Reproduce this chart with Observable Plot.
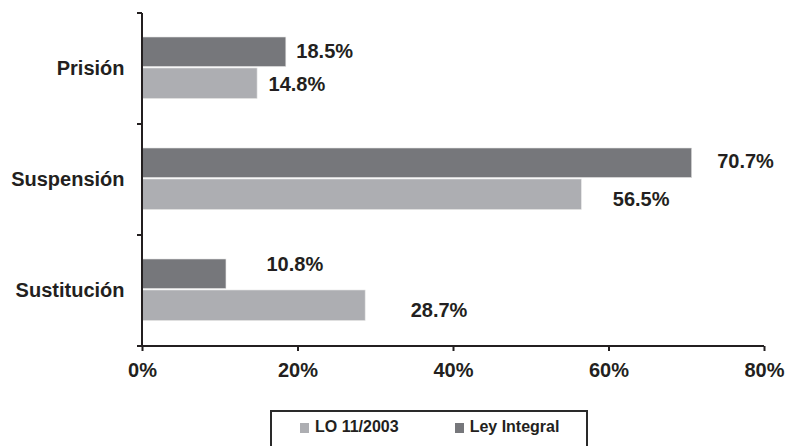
<!DOCTYPE html>
<html>
<head>
<meta charset="utf-8">
<script src="https://cdn.jsdelivr.net/npm/d3@7"></script>
<script src="https://cdn.jsdelivr.net/npm/@observablehq/plot@0.6"></script>
<style>
  html, body { margin: 0; padding: 0; background: #fff; }
  body { width: 785px; height: 446px; overflow: hidden; font-family: "Liberation Sans", Arial, sans-serif; }
  #legend {
    box-sizing: border-box;
    margin: 15px 0 0 270px;
    width: 318px;
    height: 42px;
    border: 2px solid #2a2a2a;
    border-bottom: none;
    padding: 6.5px 0 0 28px;
    display: flex;
    align-items: center;
    font: bold 16px/16px "Liberation Sans", Arial, sans-serif;
    color: #231f20;
    align-items: flex-start;
  }
  .item { display: flex; align-items: center; }
  .sw { width: 9px; height: 10px; margin-right: 6px; margin-top: 3px; }
</style>
</head>
<body>
<div id="chart"></div>
<div id="legend"></div>
<script>
// Sentencing outcomes by law (share of cases)
const categories = ["Prisión", "Suspensión", "Sustitución"];
const series = ["Ley Integral", "LO 11/2003"];
const leyIntegral = [18.5, 70.7, 10.8];
const lo2003 = [14.8, 56.5, 28.7];
const xTicks = [0, 20, 40, 60, 80];

const colors = {"Ley Integral": "#76777b", "LO 11/2003": "#adaeb2"};
const ink = "#231f20";

const rows = [
  ...categories.map((c, i) => ({category: c, series: "Ley Integral", value: leyIntegral[i]})),
  ...categories.map((c, i) => ({category: c, series: "LO 11/2003", value: lo2003[i]}))
];

// hand-placed value label offsets (px) from each bar's end/centre
const labelNudge = {
  "Prisión|Ley Integral": [10, -1.5],
  "Prisión|LO 11/2003": [11, 0.5],
  "Suspensión|Ley Integral": [25, -2.5],
  "Suspensión|LO 11/2003": [31, 4.5],
  "Sustitución|Ley Integral": [40, -10.5],
  "Sustitución|LO 11/2003": [45, 4.5]
};

// vertical placement of each series inside a category band (px)
const slot = {
  "Ley Integral": {insetTop: 24, insetBottom: 57.5, center: -15.5},
  "LO 11/2003": {insetTop: 55, insetBottom: 25.5, center: 15.5}
};

// axis lines plus tick marks on the category band edges
const axisFrame = (index, scales, values, dim) => {
  const top = dim.marginTop, bottom = dim.height - dim.marginBottom;
  const left = dim.marginLeft, right = dim.width - dim.marginRight;
  const g = d3.create("svg:g").attr("stroke", ink).attr("stroke-width", 2).attr("fill", "none");
  g.append("line").attr("x1", left).attr("x2", left).attr("y1", top).attr("y2", bottom);
  g.append("line").attr("x1", left).attr("x2", right).attr("y1", bottom).attr("y2", bottom);
  const n = categories.length;
  for (let i = 0; i <= n; ++i) {
    const y = top + i * (bottom - top) / n;
    g.append("line").attr("x1", left - 5).attr("x2", left).attr("y1", y).attr("y2", y);
  }
  return g.node();
};

const barMarks = series.map(s => Plot.barX(rows.filter(d => d.series === s), {
  x: "value", y: "category", fill: colors[s],
  stroke: "#e4e4e4", strokeWidth: 0.6,
  insetTop: slot[s].insetTop, insetBottom: slot[s].insetBottom
}));

const labelMarks = rows.map(d => {
  const [dx, dy] = labelNudge[d.category + "|" + d.series];
  return Plot.text([d], {
    x: "value", y: "category", text: r => r.value.toFixed(1) + "%",
    textAnchor: "start", lineAnchor: "middle",
    dx, dy: slot[d.series].center + dy,
    fontSize: 20, fontWeight: "bold", fill: ink
  });
});

const chart = Plot.plot({
  width: 785,
  height: 395,
  marginTop: 13,
  marginBottom: 49,
  marginLeft: 142,
  marginRight: 21,
  style: {fontFamily: "'Liberation Sans', Arial, sans-serif", color: ink, background: "#fff"},
  x: {domain: [0, 80], ticks: xTicks, tickFormat: d => d + "%"},
  y: {domain: categories, padding: 0},
  marks: [
    ...barMarks,
    ...labelMarks,
    Plot.axisX({ticks: xTicks, tickFormat: d => d + "%", tickSize: 5, tickPadding: 11,
      fontSize: 20, fontWeight: "bold", stroke: ink, strokeWidth: 2, label: null, fill: ink}),
    Plot.axisY({tickSize: 0, tickPadding: 18, fontSize: 20, fontWeight: "bold", label: null, fill: ink}),
    axisFrame
  ]
});
document.getElementById("chart").appendChild(chart);

// legend
const legend = d3.select("#legend");
const order = ["LO 11/2003", "Ley Integral"];
order.forEach((s, i) => {
  const item = legend.append("div").attr("class", "item").style("margin-left", i ? "56px" : "0");
  item.append("div").attr("class", "sw").style("background", colors[s]);
  item.append("span").text(s);
});
</script>
</body>
</html>
